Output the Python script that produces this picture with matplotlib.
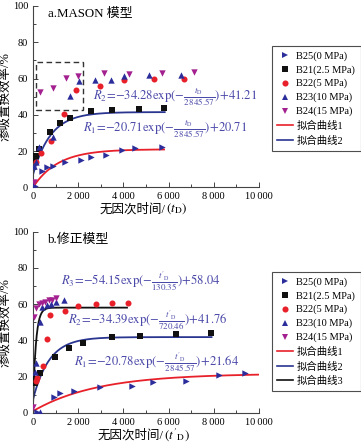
import numpy as np
import matplotlib
matplotlib.use("Agg")
import matplotlib.pyplot as plt
from matplotlib.patches import Rectangle
from matplotlib.ticker import FuncFormatter, MultipleLocator
from matplotlib.lines import Line2D

plt.rcParams['font.family'] = ['Liberation Serif', 'Noto Sans CJK SC']
plt.rcParams['mathtext.fontset'] = 'stix'

# ---- a. MASON model data (t_D, %) ----
a_b25_t = [90, 380, 600, 890, 1400, 2130, 2560, 3220, 3950, 4530, 5700]
a_b25_y = [0.5, 8.8, 11.0, 12.0, 14.2, 15.1, 16.6, 17.9, 20.7, 21.5, 22.5]
a_b21_t = [57, 130, 275, 740, 1180, 1620, 2560, 3500, 4680, 5800]
a_b21_y = [15.1, 17.5, 21.2, 30.4, 35.4, 38.3, 42.0, 42.4, 43.1, 43.9]
a_b22_t = [115, 335, 815, 1350, 1900, 2970, 4020, 5370, 6700]
a_b22_y = [13.8, 18.8, 25.8, 40.5, 53.8, 56.0, 59.0, 60.0, 59.9]
a_b23_t = [30, 60, 150, 280, 890, 1620, 2020, 2740, 3440, 4020, 5140, 6540]
a_b23_y = [1.0, 12.0, 14.0, 22.0, 28.0, 50.1, 58.4, 59.0, 59.0, 61.2, 62.0, 62.0]
a_b24_t = [50, 310, 890, 1470, 2010, 3150, 4270, 5700, 7120]
a_b24_y = [3.0, 52.5, 54.9, 60.2, 61.2, 63.0, 62.3, 63.0, 63.5]

# ---- b. corrected model data (t'_D, %) ----
b_b25_t = [185, 920, 1210, 1800, 2980, 4380, 5320, 6780, 8250, 9380]
b_b25_y = [0.5, 8.5, 10.7, 12.0, 14.4, 15.0, 16.7, 17.7, 20.8, 21.8]
b_b21_t = [80, 140, 330, 990, 1580, 2215, 3500, 4750, 6340, 7880]
b_b21_y = [16.6, 18.4, 21.8, 30.6, 35.9, 38.3, 42.0, 42.4, 43.3, 43.9]
b_b22_t = [155, 185, 435, 625, 770, 1435, 1995, 2790, 3500, 4190]
b_b22_y = [17.5, 19.0, 25.8, 40.5, 53.8, 56.4, 59.1, 60.0, 60.4, 60.4]
b_b23_t = [300, 110, 150, 330, 405, 600, 800, 1000, 1360]
b_b23_y = [0.5, 22.6, 27.5, 50.3, 58.6, 59.5, 60.0, 61.0, 62.3]
b_b24_t = [20, 60, 130, 250, 400, 550, 700, 850, 1000]
b_b24_y = [3.0, 53.0, 57.7, 60.2, 60.5, 61.2, 62.0, 62.5, 63.5]

# fitted curves: (A, B, tau, t_end)  R = -B*exp(-t/tau) + A
a_fit1 = (21.0, 21.0, 1100, 5800)
a_fit2 = (41.5, 34.5, 780, 5830)
b_fit1 = (21.64, 20.78, 2845.57, 10000)
b_fit2 = (41.76, 34.39, 720.46, 7900)
b_fit3 = (58.04, 54.15, 130.35, 4160)

C_NAVY = '#2b2d9b'
C_RED = '#e8202a'
C_MAG = '#a3208f'
C_BLUE = '#2a3590'
C_TXT = '#4a48a8'
FS_EQ = 9.1


def curve(fit):
    A, B, tau, t1 = fit
    t = np.linspace(0, t1, 300)
    return t, A - B * np.exp(-t / tau)


def thou(v, pos):
    v = int(round(v))
    if v >= 1000:
        return '%d\u2009%03d' % (v // 1000, v % 1000)
    return str(v)


def style(ax):
    ax.set_xlim(0, 10000)
    ax.set_ylim(0, 100)
    ax.spines['top'].set_visible(False)
    ax.spines['right'].set_visible(False)
    for s in ['left', 'bottom']:
        ax.spines[s].set_linewidth(0.8)
        ax.spines[s].set_color('#444444')
    ax.xaxis.set_major_locator(MultipleLocator(2000))
    ax.xaxis.set_minor_locator(MultipleLocator(1000))
    ax.yaxis.set_major_locator(MultipleLocator(20))
    ax.yaxis.set_minor_locator(MultipleLocator(10))
    ax.xaxis.set_major_formatter(FuncFormatter(thou))
    ax.tick_params(which='both', direction='in', labelsize=7.5, color='#444444', width=0.7)
    ax.tick_params(which='major', length=3.5)
    ax.tick_params(which='minor', length=2)
    ax.set_ylabel('渗吸置换效率/%', fontsize=9, labelpad=1)


def scatter_all(ax, sets):
    ms = 21
    (t25, y25), (t21, y21), (t22, y22), (t23, y23), (t24, y24) = sets
    ax.scatter(t25, y25, marker='>', s=ms, color=C_NAVY, zorder=4, linewidths=0)
    ax.scatter(t21, y21, marker='s', s=ms * 0.8, color='#111111', zorder=4, linewidths=0)
    ax.scatter(t22, y22, marker='o', s=ms * 0.9, color=C_RED, zorder=4, linewidths=0)
    ax.scatter(t23, y23, marker='^', s=ms, color=C_NAVY, zorder=4, linewidths=0)
    ax.scatter(t24, y24, marker='v', s=ms, color=C_MAG, zorder=4, linewidths=0)


def legend_handles(n_curves):
    h = [
        Line2D([], [], ls='none', marker='>', ms=5, color=C_NAVY, mew=0),
        Line2D([], [], ls='none', marker='s', ms=4.2, color='#111111', mew=0),
        Line2D([], [], ls='none', marker='o', ms=4.4, color=C_RED, mew=0),
        Line2D([], [], ls='none', marker='^', ms=5, color=C_NAVY, mew=0),
        Line2D([], [], ls='none', marker='v', ms=5, color=C_MAG, mew=0),
        Line2D([], [], color=C_RED, lw=1.2),
        Line2D([], [], color=C_BLUE, lw=1.2),
        Line2D([], [], color='#111111', lw=1.2),
    ]
    labels = ['B25(0 MPa)', 'B21(2.5 MPa)', 'B22(5 MPa)', 'B23(10 MPa)',
              'B24(15 MPa)', '拟合曲线1', '拟合曲线2', '拟合曲线3']
    n = 5 + n_curves
    return h[:n], labels[:n]


def xlabel(y_px, split_px, math):
    # Chinese part and math part drawn as two pieces (mathtext has no CJK glyphs)
    fig.text(split_px / 361, 1 - y_px / 444, '无因次时间/', fontsize=9,
             ha='right', va='center')
    fig.text(split_px / 361, 1 - y_px / 444, math, fontsize=9.5,
             ha='left', va='center')


fig = plt.figure(figsize=(3.61, 4.44), dpi=100)
ax1 = fig.add_axes([0.0914, 0.578, 0.626, 0.4085])
ax2 = fig.add_axes([0.0914, 0.0705, 0.626, 0.4077])

# ---- panel a ----
style(ax1)
t, r = curve(a_fit1)
ax1.plot(t, r, color=C_RED, lw=1.3, zorder=2)
t, r = curve(a_fit2)
ax1.plot(t, r, color=C_BLUE, lw=1.3, zorder=2)
scatter_all(ax1, [(a_b25_t, a_b25_y), (a_b21_t, a_b21_y), (a_b22_t, a_b22_y),
                  (a_b23_t, a_b23_y), (a_b24_t, a_b24_y)])
ax1.add_patch(Rectangle((130, 42.4), 2100, 26.6, fill=False, ls=(0, (4, 2.5)),
                        lw=1.0, ec='#333333', zorder=3))
ax1.text(650, 95.5, 'a.MASON 模型', fontsize=9.3, va='center')
ax1.text(2650, 49.5, r'$R_2\!=\!\mathrm{-34.28exp(-}\frac{t_\mathrm{D}}{2\,845.57}\mathrm{)\!+\!41.21}$',
         fontsize=FS_EQ, color=C_TXT, va='center', ha='left')
ax1.text(2200, 32.4, r'$R_1\!=\!\mathrm{-20.71exp(-}\frac{t_\mathrm{D}}{2\,845.57}\mathrm{)\!+\!20.71}$',
         fontsize=FS_EQ, color=C_TXT, va='center', ha='left')
xlabel(209, 166, r'$(t_\mathrm{D})$')

# ---- panel b ----
style(ax2)
t, r = curve(b_fit1)
ax2.plot(t, r, color=C_RED, lw=1.3, zorder=2)
t, r = curve(b_fit2)
ax2.plot(t, r, color=C_BLUE, lw=1.3, zorder=2)
t, r = curve(b_fit3)
ax2.plot(t, r, color='#111111', lw=1.3, zorder=2)
scatter_all(ax2, [(b_b25_t, b_b25_y), (b_b21_t, b_b21_y), (b_b22_t, b_b22_y),
                  (b_b23_t, b_b23_y), (b_b24_t, b_b24_y)])
ax2.text(650, 95.4, 'b.修正模型', fontsize=9.3, va='center')
ax2.text(1250, 72.8, r"$R_3\!=\!\mathrm{-54.15exp(-}\frac{t'_\mathrm{D}}{130.35}\mathrm{)\!+\!58.04}$",
         fontsize=FS_EQ, color=C_TXT, va='center', ha='left')
ax2.text(1550, 51.2, r"$R_2\!=\!\mathrm{-34.39exp(-}\frac{t'_\mathrm{D}}{720.46}\mathrm{)\!+\!41.76}$",
         fontsize=FS_EQ, color=C_TXT, va='center', ha='left')
ax2.text(1830, 28.2, r"$R_1\!=\!\mathrm{-20.78exp(-}\frac{t'_\mathrm{D}}{2\,845.57}\mathrm{)\!+\!21.64}$",
         fontsize=FS_EQ, color=C_TXT, va='center', ha='left')
xlabel(435, 164, r"$(t'_\mathrm{D})$")

# legends
for n, y0 in [(2, 1 - 45.7 / 444), (3, 1 - 271.7 / 444)]:
    h, l = legend_handles(n)
    leg = fig.legend(h, l, loc='upper left', bbox_to_anchor=(271.5 / 361, y0),
                     fontsize=7.5, frameon=True, fancybox=False, handlelength=1.6,
                     handletextpad=0.3, labelspacing=0.42, borderpad=0.5,
                     borderaxespad=0)
    leg.get_frame().set_edgecolor('#222222')
    leg.get_frame().set_linewidth(0.8)

fig.savefig('out.png', dpi=100)
